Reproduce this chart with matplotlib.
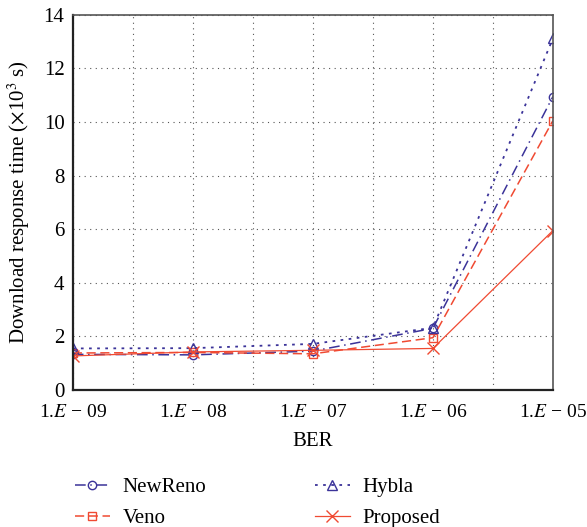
import matplotlib.pyplot as plt
import numpy as np

plt.rcParams['font.family'] = ['Liberation Serif', 'DejaVu Serif']
plt.rcParams['mathtext.fontset'] = 'stix'

ber_labels = ["1.$E$ \u2212 09", "1.$E$ \u2212 08", "1.$E$ \u2212 07", "1.$E$ \u2212 06", "1.$E$ \u2212 05"]
newreno = [1.33, 1.31, 1.45, 2.3, 10.95]
veno = [1.38, 1.4, 1.35, 1.95, 10.05]
hybla = [1.55, 1.56, 1.72, 2.32, 13.12]
proposed = [1.27, 1.42, 1.48, 1.55, 5.95]

blue = '#3b3399'
red = '#f04a32'
x = np.arange(len(ber_labels))

fig = plt.figure(figsize=(5.87, 5.27), dpi=100)
ax = fig.add_axes([0.124, 0.26, 0.818, 0.712])

ax.plot(x, newreno, color=blue, linestyle=(0, (7, 3, 1, 3)), lw=1.1, marker='o',
        mfc='none', ms=6, mew=1.0, label='NewReno')
ax.plot(x, veno, color=red, linestyle=(0, (6, 3)), lw=1.1, marker='s',
        mfc='none', ms=6, mew=1.0, label='Veno')
ax.plot(x, hybla, color=blue, linestyle=(0, (1.5, 3)), lw=1.3, marker='^',
        mfc='none', ms=7, mew=1.0, label='Hybla')
ax.plot(x, proposed, color=red, linestyle='-', lw=0.9, marker='x',
        ms=9, mew=1.0, label='Proposed')

ax.set_xlim(0, 4)
ax.set_ylim(0, 14)
ax.set_xticks(x)
ax.set_xticklabels(ber_labels)
ax.set_xticks(np.arange(0.5, 4, 0.5), minor=True)
ax.set_yticks(range(0, 15, 2))
ax.grid(True, which='both', axis='x', linestyle=(0, (1, 4)), color='#555555', lw=0.8)
ax.grid(True, which='major', axis='y', linestyle=(0, (1, 4)), color='#555555', lw=0.8)
ax.tick_params(which='both', direction='in', length=0, labelsize=15)
ax.tick_params(axis='x', pad=10, labelsize=14)
ax.tick_params(axis='y', pad=6)

for s in ['left', 'bottom']:
    ax.spines[s].set_linewidth(1.6)
    ax.spines[s].set_color('#222222')
for s in ['top', 'right']:
    ax.spines[s].set_linewidth(1.2)
    ax.spines[s].set_color('#555555')

ax.set_xlabel('BER', fontsize=15, labelpad=8)
ax.set_ylabel('Download response time ($\\times$10$^3$ s)', fontsize=15, labelpad=8)

fig.legend(loc='upper left', bbox_to_anchor=(0.095, 0.13), ncol=2, frameon=False,
           fontsize=15, handlelength=1.7, columnspacing=5.2, labelspacing=0.55,
           handletextpad=0.6)

fig.savefig('out.png', dpi=100)
